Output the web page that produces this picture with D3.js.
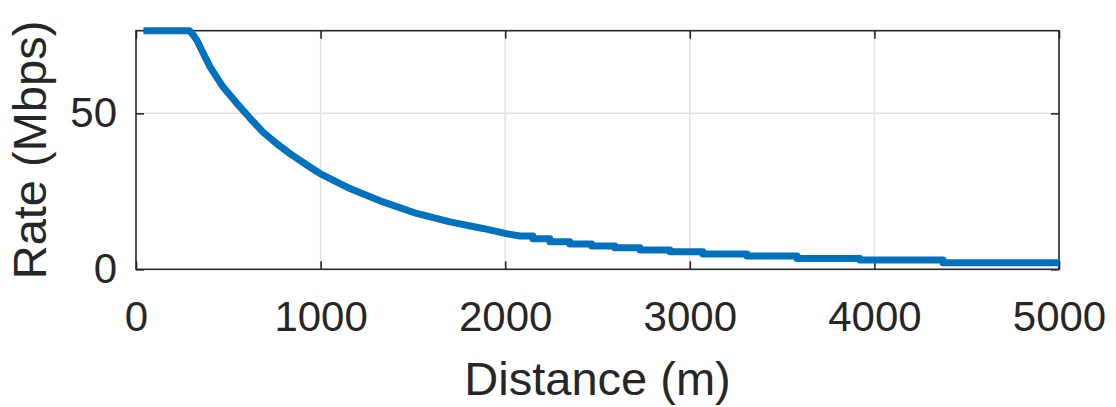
<!DOCTYPE html>
<html>
<head>
<meta charset="utf-8">
<script src="https://cdn.jsdelivr.net/npm/d3@7"></script>
<style>
  html, body { margin: 0; padding: 0; background: #fff; }
  svg { display: block; }
</style>
</head>
<body>
<svg id="chart" width="1116" height="407"></svg>
<script>
// ---- data ----
const distance = [40, 290, 310, 329, 365, 401, 471, 545, 617, 688, 762, 834,
  942, 997, 1159, 1338, 1520, 1701, 1880, 1999,
  2080, 2150, 2150, 2242, 2242, 2350, 2350, 2469, 2469, 2594, 2594, 2730,
  2730, 2893, 2893, 3071, 3071, 3310, 3310, 3581, 3581, 3922, 3922, 4372, 4372, 5000];
const rate = [76.5, 76.5, 75.1, 73.5, 69.2, 64.9, 58.5, 53.3, 48.5, 44.0, 40.3, 37.1,
  32.8, 30.7, 25.9, 21.6, 17.9, 15.2, 13.1, 11.5,
  10.7, 10.7, 9.8, 9.8, 8.8, 8.8, 8.1, 8.1, 7.5, 7.5, 6.9, 6.9,
  6.2, 6.2, 5.6, 5.6, 4.9, 4.9, 4.3, 4.3, 3.5, 3.5, 3.0, 3.0, 2.1, 2.1];
const xTicks = [0, 1000, 2000, 3000, 4000, 5000];
const yTicks = [0, 50];
const xDomain = [0, 5000];
const yDomain = [0, 76.5];
const xLabel = "Distance (m)";
const yLabel = "Rate (Mbps)";

// ---- layout ----
const L = 136, R = 1059, T = 30.7, B = 269.3;
const axisColor = "#262626";
const gridColor = "#e3e3e3";
const font = "'Liberation Sans', Arial, Helvetica, sans-serif";
const tickFont = 42, labelFont = 47;

const svg = d3.select("#chart");
const x = d3.scaleLinear().domain(xDomain).range([L, R]);
const y = d3.scaleLinear().domain(yDomain).range([B, T]);

// grid
const grid = svg.append("g");
grid.selectAll("line.gx").data(xTicks.filter(t => t > xDomain[0] && t < xDomain[1]))
  .enter().append("line")
  .attr("x1", d => x(d)).attr("x2", d => x(d))
  .attr("y1", T).attr("y2", B)
  .attr("stroke", gridColor).attr("stroke-width", 1.5);
grid.selectAll("line.gy").data(yTicks.filter(t => t > yDomain[0] && t < yDomain[1]))
  .enter().append("line")
  .attr("x1", L).attr("x2", R)
  .attr("y1", d => y(d)).attr("y2", d => y(d))
  .attr("stroke", gridColor).attr("stroke-width", 1.5);

// axes
function styleAxis(g) {
  g.selectAll(".domain").remove();
  g.selectAll(".tick line").attr("stroke", axisColor).attr("stroke-width", 1.6);
  g.selectAll(".tick text").attr("fill", axisColor)
    .style("font-family", font).style("font-size", tickFont + "px");
}
svg.append("g").attr("transform", `translate(0,${B})`)
  .call(d3.axisBottom(x).tickValues(xTicks).tickSize(-8).tickPadding(32).tickFormat(d3.format("d")))
  .call(styleAxis);
svg.append("g").attr("transform", `translate(0,${T})`)
  .call(d3.axisTop(x).tickValues(xTicks).tickSize(-8).tickFormat(""))
  .call(styleAxis);
svg.append("g").attr("transform", `translate(${L},0)`)
  .call(d3.axisLeft(y).tickValues(yTicks).tickSize(-8).tickPadding(19).tickFormat(d3.format("d")))
  .call(styleAxis);
svg.append("g").attr("transform", `translate(${R},0)`)
  .call(d3.axisRight(y).tickValues(yTicks).tickSize(-8).tickFormat(""))
  .call(styleAxis);

// box
svg.append("rect")
  .attr("x", L).attr("y", T).attr("width", R - L).attr("height", B - T)
  .attr("fill", "none").attr("stroke", axisColor).attr("stroke-width", 1.6);

// axis labels
svg.append("text")
  .attr("x", (L + R) / 2).attr("y", 395)
  .attr("text-anchor", "middle").attr("fill", axisColor)
  .style("font-family", font).style("font-size", labelFont + "px")
  .text(xLabel);
svg.append("text")
  .attr("transform", `translate(46,${(T + B) / 2}) rotate(-90)`)
  .attr("text-anchor", "middle").attr("fill", axisColor)
  .style("font-family", font).style("font-size", labelFont + "px")
  .text(yLabel);

// data line
const pts = distance.map((d, i) => [d, rate[i]]);
svg.append("path")
  .datum(pts)
  .attr("fill", "none")
  .attr("stroke", "#0072BD")
  .attr("stroke-width", 7)
  .attr("stroke-linejoin", "round")
  .attr("d", d3.line().x(d => x(d[0])).y(d => y(d[1])));
</script>
</body>
</html>
